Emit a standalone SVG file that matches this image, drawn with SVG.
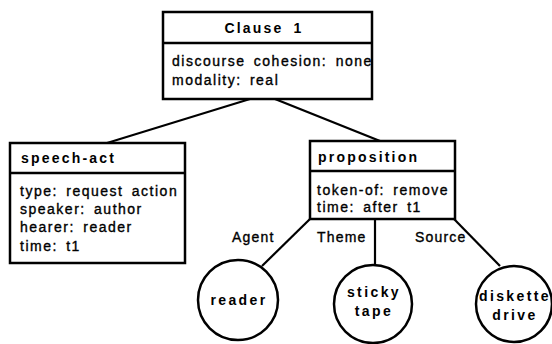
<svg xmlns="http://www.w3.org/2000/svg" width="552" height="344" viewBox="0 0 552 344">
<style>
.box{fill:#fff;stroke:#000;stroke-width:2.5}
.div{stroke:#000;stroke-width:2.5}
.conn line{stroke:#000;stroke-width:2.2}
.circ{fill:#fff;stroke:#000;stroke-width:2.5}
.hd{font-family:"Liberation Sans",Arial,sans-serif;font-weight:bold;font-size:14px;letter-spacing:2.2px;fill:#000}
.bd{font-family:"Liberation Sans",Arial,sans-serif;font-size:14px;letter-spacing:1.5px;word-spacing:3px;fill:#000;stroke:#000;stroke-width:0.35}
.lb{font-family:"Liberation Sans",Arial,sans-serif;font-size:14px;letter-spacing:1.2px;fill:#000;stroke:#000;stroke-width:0.35}
.ct{font-family:"Liberation Sans",Arial,sans-serif;font-weight:bold;font-size:14px;letter-spacing:2.4px;fill:#000;text-anchor:middle}
</style>
<rect width="552" height="344" fill="#fff"/>
<g id="connectors" class="conn">
<line x1="250" y1="99" x2="107" y2="143"/>
<line x1="275" y1="99" x2="380" y2="141"/>
<line x1="310" y1="219" x2="262" y2="266"/>
<line x1="375" y1="219" x2="375" y2="265"/>
<line x1="454" y1="219" x2="500" y2="266"/>
</g>
<g id="clause1">
<rect class="box" x="163" y="12" width="209" height="87"/>
<line class="div" x1="163" y1="43" x2="372" y2="43"/>
<text class="hd" x="264" y="33" text-anchor="middle" word-spacing="4">Clause 1</text>
<text class="bd" x="172" y="66" letter-spacing="1.3">discourse cohesion: none</text>
<text class="bd" x="172" y="85" letter-spacing="1.3">modality: real</text>
</g>
<g id="speech-act">
<rect class="box" x="10" y="143" width="175" height="120"/>
<line class="div" x1="10" y1="173" x2="185" y2="173"/>
<text class="hd" x="21" y="163">speech-act</text>
<text class="bd" x="20" y="196">type: request action</text>
<text class="bd" x="20" y="214">speaker: author</text>
<text class="bd" x="20" y="232">hearer: reader</text>
<text class="bd" x="20" y="251">time: t1</text>
</g>
<g id="proposition">
<rect class="box" x="310" y="141" width="145" height="78"/>
<line class="div" x1="310" y1="171" x2="455" y2="171"/>
<text class="hd" x="318" y="162">proposition</text>
<text class="bd" x="317" y="195">token-of: remove</text>
<text class="bd" x="317" y="212">time: after t1</text>
</g>
<g id="labels">
<text class="lb" x="232" y="242">Agent</text>
<text class="lb" x="317" y="242">Theme</text>
<text class="lb" x="415" y="242">Source</text>
</g>
<g id="reader">
<circle class="circ" cx="238" cy="300" r="40"/>
<text class="ct" x="239" y="305">reader</text>
</g>
<g id="sticky-tape">
<circle class="circ" cx="373" cy="304" r="39"/>
<text class="ct" x="374" y="297">sticky</text>
<text class="ct" x="374" y="316">tape</text>
</g>
<g id="diskette-drive">
<circle class="circ" cx="514" cy="304" r="38"/>
<text class="ct" x="515" y="301">diskette</text>
<text class="ct" x="515" y="320">drive</text>
</g>
</svg>
